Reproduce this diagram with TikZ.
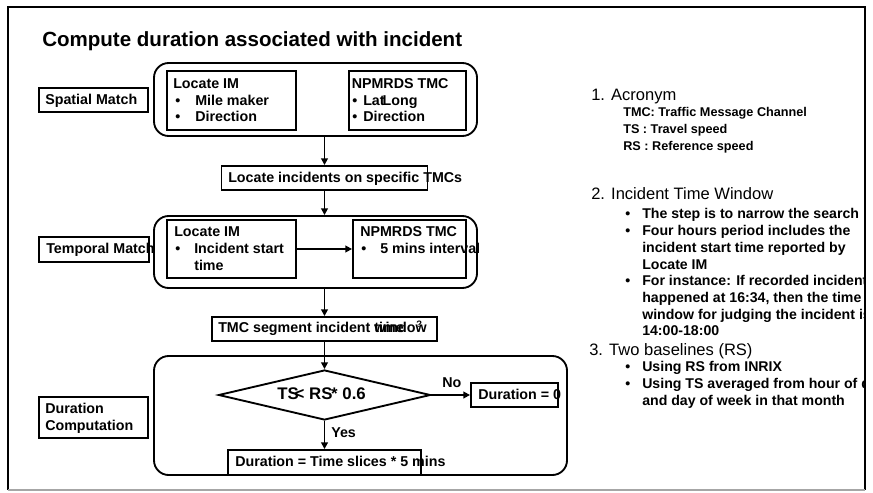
\documentclass[tikz,border=0pt]{standalone}
\usepackage{fontspec}
\setmainfont{Liberation Sans}
\usetikzlibrary{arrows.meta,shapes.geometric}
\begin{document}
\begin{tikzpicture}[x=0.75pt,y=-0.75pt,
  bx/.style={draw, line width=1.4pt, inner sep=0, rectangle},
  grp/.style={draw, line width=1.4pt, inner sep=0, rectangle, rounded corners=11pt},
  tx/.style={inner sep=0, anchor=base west, font=\bfseries\fontsize{10.7}{12}\selectfont},
  hd/.style={inner sep=0, anchor=base west, font=\fontsize{12.4}{14}\selectfont},
  ac/.style={inner sep=0, anchor=base west, font=\bfseries\fontsize{9.5}{11}\selectfont},
  bl/.style={inner sep=0, anchor=base west, font=\bfseries\fontsize{10.6}{12}\selectfont},
  arr/.style={line width=1.4pt, -{Triangle[length=5pt,width=5pt]}},
]
\useasboundingbox (0,0) rectangle (873,492);

% title
\node[inner sep=0, anchor=base west, font=\bfseries\fontsize{15.4}{18}\selectfont] (title) at (42,47) {Compute duration associated with incident};

% ---- spatial match
\node[grp, minimum width=242.25pt, minimum height=54.75pt] (sg) at (315.5,99.5) {};
\node[bx, minimum width=96.75pt, minimum height=44.25pt] (sLoc) at (231.5,100.5) {};
\node[bx, minimum width=87.75pt, minimum height=44.25pt] (sNpm) at (407.5,100.5) {};
\node[bx, minimum width=81.75pt, minimum height=17.5pt] (sLab) at (93.7,100) {};
\node[tx] (sLabT) at (45,104.5) {Spatial Match};
\node[tx] (sLoc1) at (173,88.5) {Locate IM};
\node[tx] (sLoc2b) at (175,105) {•};
\node[tx] (sLoc2) at (195,105) {Mile maker};
\node[tx] (sLoc3b) at (175,121.5) {•};
\node[tx] (sLoc3) at (195,121.5) {Direction};
\node[tx] (sNpm1) at (351.5,88.5) {NPMRDS TMC};
\node[tx] (sNpm2b) at (352,105) {•};
\node[tx] (sNpm2) at (363,105) {Lat\kern-1.5pt Long};
\node[tx] (sNpm3b) at (352,121.5) {•};
\node[tx] (sNpm3) at (363,121.5) {Direction};

% ---- locate incidents
\node[bx, minimum width=154.5pt, minimum height=18pt] (locInc) at (324.5,178) {};
\node[tx] (locIncT) at (228,182.5) {Locate incidents on specific TMCs};

% ---- temporal match
\node[grp, minimum width=242.25pt, minimum height=54pt] (tg) at (315.5,252) {};
\node[bx, minimum width=96.75pt, minimum height=43.5pt] (tLoc) at (231.5,249) {};
\node[bx, minimum width=84.75pt, minimum height=43.5pt] (tNpm) at (409.5,249) {};
\node[bx, minimum width=82.5pt, minimum height=18.75pt] (tLab) at (94.2,249.2) {};
\node[tx] (tLabT) at (46,253.5) {Temporal Match};
\node[tx] (tLoc1) at (174,236) {Locate IM};
\node[tx] (tLoc2b) at (175,253) {•};
\node[tx] (tLoc2) at (194,253) {Incident start};
\node[tx] (tLoc3) at (194,270) {time};
\node[tx] (tNpm1) at (360,236) {NPMRDS TMC};
\node[tx] (tNpm2b) at (361,253) {•};
\node[tx] (tNpm2) at (380,253) {5 mins interval};

% ---- TMC segment
\node[bx, minimum width=168.75pt, minimum height=18pt] (tmcSeg) at (324.5,329) {};
\node[tx] (tmcSegT) at (218,332.5) {TMC segment incident \rlap{time\hspace{9.5pt}\raisebox{4pt}{\fontsize{7}{7}\selectfont ?}}window};

% ---- duration computation
\node[grp, minimum width=309.75pt, minimum height=89.25pt] (dg) at (360.5,415.5) {};
\node[draw, diamond, line width=1.4pt, inner sep=0, minimum width=159pt, minimum height=37.5pt] (dia) at (324.5,395) {};
\node[inner sep=0, anchor=base west, font=\bfseries\fontsize{12.6}{14}\selectfont] (diaT) at (277,399.3) {TS\kern-3pt< RS\kern-1pt* 0.6};
\node[bx, minimum width=65.25pt, minimum height=18pt] (dur0) at (514.5,395) {};
\node[tx] (dur0T) at (478,399.3) {Duration = 0};
\node[bx, minimum width=144.75pt, minimum height=18.75pt] (durTS) at (324.5,462.5) {};
\node[tx] (durTST) at (235,466) {Duration = Time slices * 5 mins};
\node[bx, minimum width=81.75pt, minimum height=31.2pt] (dLab) at (93.7,417.5) {};
\node[tx] (dLab1) at (45,413.5) {Duration};
\node[tx] (dLab2) at (45,430) {Computation};
\node[tx] (noT) at (442,387.3) {No};
\node[tx] (yesT) at (331,437.7) {Yes};

% ---- connectors
\draw[arr] (sg.south -| locInc.north) -- (locInc.north);
\draw[arr] (locInc.south) -- (locInc.south |- tg.north);
\draw[arr] (tLoc.east) -- (tNpm.west);
\draw[arr] (tg.south -| tmcSeg.north) -- (tmcSeg.north);
\draw[arr] (tmcSeg.south) -- (dia.north);
\draw[arr] (dia.east) -- (dur0.west);
\draw[arr] (dia.south) -- (durTS.north);

% ---- right notes (clipped at frame)
\begin{scope}
\clip (0,0) rectangle (865,492);
\node[hd] (h1) at (591,100) {1. Acronym};
\node[ac] (a1) at (623,116.7) {TMC: Traffic Message Channel};
\node[ac] (a2) at (623,133.3) {TS : Travel speed};
\node[ac] (a3) at (623,150) {RS : Reference speed};
\node[hd] (h2) at (591,199.3) {2. Incident Time Window};
\node[bl] (b1b) at (625,218.3) {•};
\node[bl] (b1) at (642,218.3) {The step is to narrow the search};
\node[bl] (b2b) at (625,235) {•};
\node[bl] (b2) at (642,235) {Four hours period includes the};
\node[bl] (b2c) at (642,252.3) {incident start time reported by};
\node[bl] (b2d) at (642,269) {Locate IM};
\node[bl] (b3b) at (625,285.7) {•};
\node[bl] (b3) at (642,285.7) {For instance: If recorded incident};
\node[bl] (b3c) at (642,302.3) {happened at 16:34, then the time};
\node[bl] (b3d) at (642,319) {window for judging the incident is};
\node[bl] (b3e) at (642,335.7) {14:00-18:00};
\node[hd] (h3) at (589,355) {3. Two baselines (RS)};
\node[bl] (c1b) at (625,371.7) {•};
\node[bl] (c1) at (642,371.7) {Using RS from INRIX};
\node[bl] (c2b) at (625,388.3) {•};
\node[bl] (c2) at (642,388.3) {Using TS averaged from hour of day};
\node[bl] (c2c) at (642,405) {and day of week in that month};
\end{scope}

% ---- frame
\draw[line width=1.4pt] (8,490) -- (8,7) -- (865,7) -- (865,490);
\draw[black!35, line width=1pt] (8,490) -- (865,490);
\end{tikzpicture}
\end{document}
